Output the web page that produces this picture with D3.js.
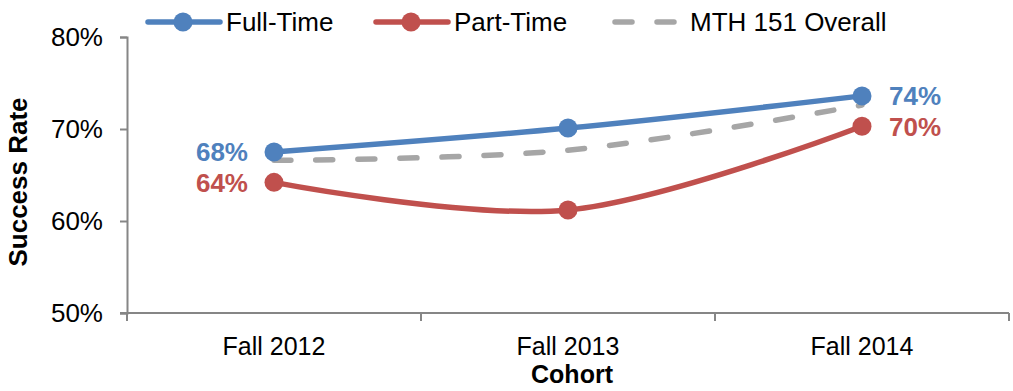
<!DOCTYPE html>
<html>
<head>
<meta charset="utf-8">
<script src="https://cdn.jsdelivr.net/npm/d3@7"></script>
<style>
  html, body { margin: 0; padding: 0; background: #fff; }
  svg { display: block; font-family: "Liberation Sans", Arial, sans-serif; }
</style>
</head>
<body>
<svg id="chart" width="1013" height="391"></svg>
<script>
// Success rate by cohort (percent)
const cohorts = ["Fall 2012", "Fall 2013", "Fall 2014"];
const fullTime = [67.5, 70.1, 73.6];
const partTime = [64.2, 61.2, 70.3];
const overall = [66.6, 67.7, 72.6];
const yTicks = [50, 60, 70, 80];

const seriesNames = ["Full-Time", "Part-Time", "MTH 151 Overall"];
const colors = { full: "#4F81BD", part: "#C0504D", overall: "#A6A6A6" };

const svg = d3.select("#chart");
const plotLeft = 127, plotRight = 1009, plotTop = 37, plotBottom = 313;

const xBand = d3.scaleBand().domain(cohorts).range([plotLeft, plotRight]);
const x = d3.scalePoint().domain(cohorts).range([plotLeft, plotRight]).padding(0.5);
const y = d3.scaleLinear().domain([50, 80]).range([plotBottom, plotTop]);

const axisColor = "#868686";

// Y axis
const yAxis = svg.append("g")
  .attr("transform", `translate(${plotLeft},0)`)
  .call(d3.axisLeft(y).tickValues(yTicks).tickFormat(d => d + "%").tickSize(7).tickPadding(17));
yAxis.select(".domain").attr("stroke", axisColor).attr("stroke-width", 2);
yAxis.selectAll(".tick line").attr("stroke", axisColor).attr("stroke-width", 2);
yAxis.selectAll(".tick text")
  .attr("fill", "#000")
  .style("font-size", "26px")
  .style("font-family", "'Liberation Sans', Arial, sans-serif");

// X axis line and tick marks at category boundaries
const xAxis = svg.append("g");
xAxis.append("line")
  .attr("x1", plotLeft - 7).attr("x2", plotRight)
  .attr("y1", plotBottom).attr("y2", plotBottom)
  .attr("stroke", axisColor).attr("stroke-width", 2);
const boundaries = cohorts.map(c => xBand(c)).concat([xBand.range()[1]]);
xAxis.selectAll("line.tick")
  .data(boundaries)
  .join("line")
  .attr("class", "tick")
  .attr("x1", d => d).attr("x2", d => d)
  .attr("y1", plotBottom).attr("y2", plotBottom + 8)
  .attr("stroke", axisColor).attr("stroke-width", 2);
xAxis.selectAll("text")
  .data(cohorts)
  .join("text")
  .attr("x", d => x(d))
  .attr("y", 355)
  .attr("text-anchor", "middle")
  .style("font-size", "25px")
  .text(d => d);

// Axis titles
svg.append("text")
  .attr("x", x(cohorts[1]) + 4)
  .attr("y", 383)
  .attr("text-anchor", "middle")
  .style("font-size", "25px")
  .style("font-weight", "bold")
  .text("Cohort");

svg.append("text")
  .attr("transform", `translate(27,${(plotTop + plotBottom) / 2 + 7}) rotate(-90)`)
  .attr("text-anchor", "middle")
  .style("font-size", "26px")
  .style("font-weight", "bold")
  .text("Success Rate");

// Smoothed lines
const line = d3.line()
  .x((d, i) => x(cohorts[i]))
  .y(d => y(d))
  .curve(d3.curveCardinal.tension(0));

svg.append("path")
  .datum(overall)
  .attr("d", line)
  .attr("fill", "none")
  .attr("stroke", colors.overall)
  .attr("stroke-width", 5.5)
  .attr("stroke-linecap", "round")
  .attr("stroke-dasharray", "17,25");

function drawSeries(values, color) {
  svg.append("path")
    .datum(values)
    .attr("d", line)
    .attr("fill", "none")
    .attr("stroke", color)
    .attr("stroke-width", 5.5)
    .attr("stroke-linecap", "round");
  svg.append("g")
    .selectAll("circle")
    .data(values)
    .join("circle")
    .attr("cx", (d, i) => x(cohorts[i]))
    .attr("cy", d => y(d))
    .attr("r", 9.5)
    .attr("fill", color);
}
drawSeries(partTime, colors.part);
drawSeries(fullTime, colors.full);

// Value labels at the first and last cohorts
const fmt = v => Math.round(v) + "%";
const labels = [
  { v: fullTime[0], i: 0, color: colors.full, side: "left" },
  { v: partTime[0], i: 0, color: colors.part, side: "left" },
  { v: fullTime[2], i: 2, color: colors.full, side: "right" },
  { v: partTime[2], i: 2, color: colors.part, side: "right" }
];
svg.append("g")
  .selectAll("text")
  .data(labels)
  .join("text")
  .attr("x", d => x(cohorts[d.i]) + (d.side === "left" ? -26 : 27))
  .attr("y", d => y(d.v))
  .attr("dy", "0.36em")
  .attr("text-anchor", d => d.side === "left" ? "end" : "start")
  .attr("fill", d => d.color)
  .style("font-size", "26px")
  .style("font-weight", "bold")
  .text(d => fmt(d.v));

// Legend
const legend = svg.append("g");
const legendItems = [
  { name: seriesNames[0], color: colors.full, x0: 148, dashed: false },
  { name: seriesNames[1], color: colors.part, x0: 376, dashed: false },
  { name: seriesNames[2], color: colors.overall, x0: 613, dashed: true }
];
const ly = 22;
legendItems.forEach(it => {
  const g = legend.append("g");
  g.append("line")
    .attr("x1", it.x0 + (it.dashed ? 2 : 0)).attr("x2", it.x0 + 72 - (it.dashed ? 8 : 0))
    .attr("y1", ly).attr("y2", ly)
    .attr("stroke", it.color)
    .attr("stroke-width", 5.5)
    .attr("stroke-linecap", "round")
    .attr("stroke-dasharray", it.dashed ? "17,25" : null);
  if (!it.dashed) {
    g.append("circle")
      .attr("cx", it.x0 + 35).attr("cy", ly).attr("r", 9.5)
      .attr("fill", it.color);
  }
  g.append("text")
    .attr("x", it.x0 + (it.dashed ? 77 : 78))
    .attr("y", 31)
    .style("font-size", "26px")
    .text(it.name);
});
</script>
</body>
</html>
